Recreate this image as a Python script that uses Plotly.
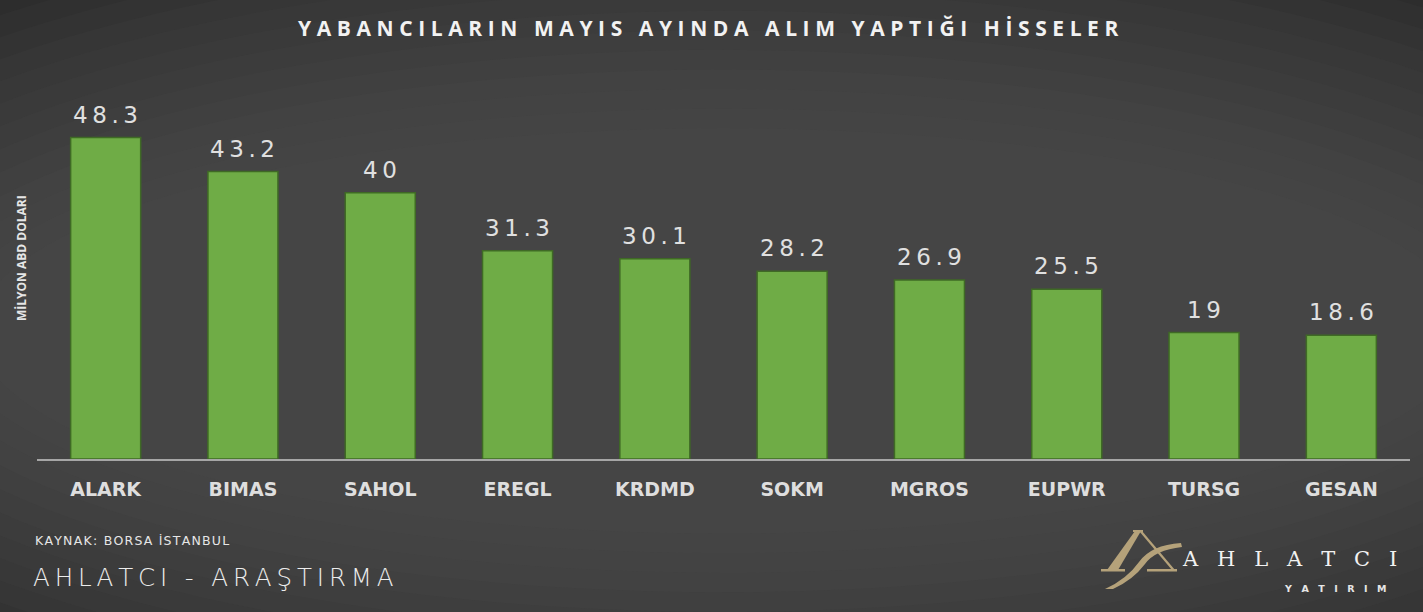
import plotly.graph_objects as go

categories = ["ALARK", "BIMAS", "SAHOL", "EREGL", "KRDMD", "SOKM", "MGROS", "EUPWR", "TURSG", "GESAN"]
values = [48.3, 43.2, 40, 31.3, 30.1, 28.2, 26.9, 25.5, 19, 18.6]
value_labels = ["48.3", "43.2", "40", "31.3", "30.1", "28.2", "26.9", "25.5", "19", "18.6"]

W, H = 1423, 612
L, R, T, B = 37, 13, 93, 153
PW, PH = W - L - R, H - T - B
THIN, HAIR = "\u2009", "\u200a"


def px(x):
    return (x - L) / PW


def py(y):
    return (H - B - y) / PH


def spaced(s, gap):
    return gap.join(list(s))


fig = go.Figure()
fig.add_trace(go.Bar(
    x=categories, y=values,
    marker=dict(color="#6fac46", line=dict(color="#3f6a25", width=1.5)),
    hoverinfo="skip",
))

# background approximating radial gradient
shapes = [dict(type="rect", xref="paper", yref="paper", x0=-1, x1=2, y0=-1, y1=2,
               fillcolor="#262626", line_width=0, layer="below")]
steps = 14
for i in range(steps):
    f = i / steps
    shapes.append(dict(type="circle", xref="paper", yref="paper",
                       x0=-0.35 + 0.33 * f, x1=1.35 - 0.33 * f,
                       y0=-0.9 + 0.75 * f, y1=1.6 - 0.75 * f,
                       fillcolor="rgba(92,92,92,0.08)", line_width=0, layer="below"))


def poly(points, color="#b5a27a"):
    d = "M " + " L ".join(f"{px(a):.5f},{py(b):.5f}" for a, b in points) + " Z"
    return dict(type="path", xref="paper", yref="paper", path=d, fillcolor=color, line_width=0)


def curve(cmds, color="#b5a27a"):
    out = []
    for c in cmds:
        if isinstance(c, str):
            out.append(c)
        else:
            out.append(f"{px(c[0]):.5f},{py(c[1]):.5f}")
    return dict(type="path", xref="paper", yref="paper", path=" ".join(out) + " Z",
                fillcolor=color, line_width=0)


# gold logo mark
shapes.append(poly([(1107, 570), (1118, 570), (1141, 531), (1135, 531)]))
shapes.append(poly([(1101, 569), (1125, 569), (1125, 571.5), (1101, 571.5)]))
shapes.append(poly([(1133, 530), (1143, 530), (1143, 532), (1133, 532)]))
shapes.append(poly([(1139, 531), (1142, 531), (1175, 570), (1172, 570)]))
shapes.append(poly([(1147, 569), (1177, 569), (1177, 571.5), (1147, 571.5)]))
shapes.append(curve(["M", (1181, 543), "Q", (1151, 545), (1139, 562), "Q", (1127, 579), (1105, 589),
                     "L", (1113, 589), "Q", (1133, 580), (1145, 564), "Q", (1155, 550), (1182, 547)]))

annotations = [
    dict(text="<b>" + spaced("YABANCILARIN MAYIS AYINDA ALIM YAPTIĞI HİSSELER", THIN + HAIR) + "</b>",
         xref="paper", yref="paper", x=px(708), y=py(28), xanchor="center", yanchor="middle",
         showarrow=False, font=dict(family="Open Sans", size=21, color="#f2f2f2")),
    dict(text="<b>MİLYON ABD DOLARI</b>", xref="paper", yref="paper",
         x=px(21), y=py(258), xanchor="center", yanchor="middle",
         textangle=-90, showarrow=False, font=dict(family="Open Sans", size=12, color="#e6e6e6")),
    dict(text=spaced("KAYNAK: BORSA İSTANBUL", HAIR), xref="paper", yref="paper",
         x=px(33), y=py(540), xanchor="left", yanchor="middle",
         showarrow=False, font=dict(family="DejaVu Sans", size=12.5, color="#e6e6e6")),
    dict(text=spaced("AHLATCI - ARAŞTIRMA", THIN), xref="paper", yref="paper",
         x=px(31), y=py(577), xanchor="left", yanchor="middle",
         showarrow=False, font=dict(family="DejaVu Sans", size=24.5, weight=200, color="#ececec")),
    dict(text=spaced("AHLATCI", "\u2002" + THIN + THIN), xref="paper", yref="paper",
         x=px(1180), y=py(559), xanchor="left", yanchor="middle",
         showarrow=False, font=dict(family="DejaVu Serif", size=21, color="#f2f2f2")),
    dict(text="<b>" + spaced("YATIRIM", "\u2003") + "</b>", xref="paper", yref="paper",
         x=px(1389), y=py(588), xanchor="right", yanchor="middle",
         showarrow=False, font=dict(family="DejaVu Sans", size=9.5, color="#e6e6e6")),
]

for cat, val, lab in zip(categories, values, value_labels):
    annotations.append(dict(
        text=spaced(lab, THIN), x=cat, y=val, xref="x", yref="y",
        xanchor="center", yanchor="bottom", yshift=8, showarrow=False,
        font=dict(family="DejaVu Sans", size=23, color="#e0e0e0")))

fig.update_layout(
    width=W, height=H, margin=dict(l=L, r=R, t=T, b=B),
    paper_bgcolor="#2e2e2e", plot_bgcolor="rgba(0,0,0,0)",
    bargap=0.49, showlegend=False, shapes=shapes, annotations=annotations,
    xaxis=dict(showline=True, linecolor="#a6a6a6", linewidth=2, ticks="", showgrid=False,
               tickfont=dict(family="DejaVu Sans", size=19, color="#dedede", weight="bold"),
               ticklabelstandoff=12),
    yaxis=dict(range=[0, 55], visible=False, showgrid=False, zeroline=False),
)

fig.write_html("out.html")
